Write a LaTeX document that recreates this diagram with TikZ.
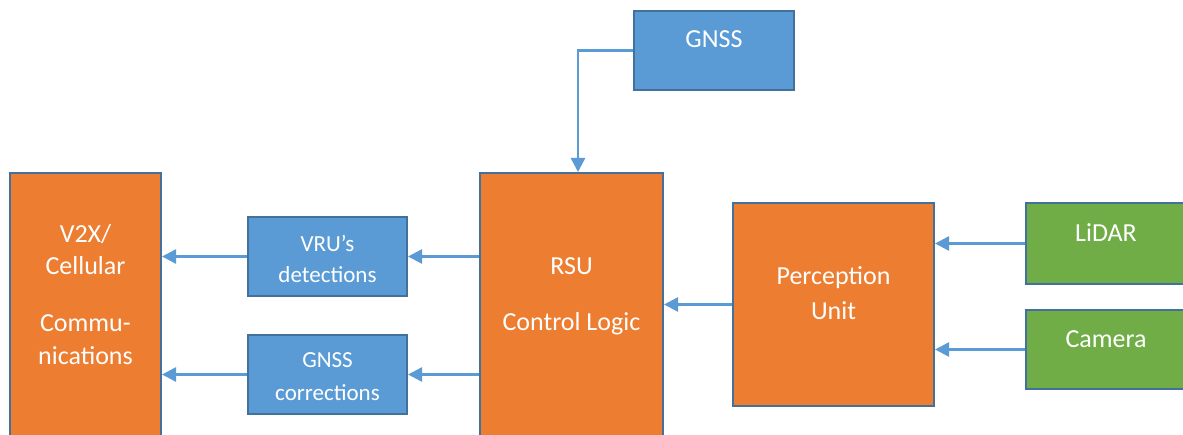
\documentclass[tikz,border=0pt]{standalone}
\usepackage{fontspec}
\setmainfont{Carlito}
\usetikzlibrary{arrows.meta}
\definecolor{boxorange}{HTML}{ED7D31}
\definecolor{boxblue}{HTML}{5B9BD5}
\definecolor{boxgreen}{HTML}{70AD47}
\definecolor{edgeblue}{HTML}{41719C}
\definecolor{linkblue}{HTML}{5B9BD5}
\tikzset{
  block/.style={draw=edgeblue, line width=2pt, inner sep=0pt, rectangle},
  orangebox/.style={block, fill=boxorange},
  bluebox/.style={block, fill=boxblue},
  greenbox/.style={block, fill=boxgreen},
  bigtxt/.style={text=white, anchor=base, inner sep=0pt, font=\fontsize{26}{31}\selectfont},
  smalltxt/.style={text=white, anchor=base, inner sep=0pt, font=\fontsize{23}{28}\selectfont},
  link/.style={draw=linkblue, line width=2.5pt, -{Triangle[length=14pt,width=14pt]}}
}
\begin{document}
\begin{tikzpicture}[x=1pt, y=-1pt]
  \useasboundingbox[fill=white] (0,0) rectangle (1183,435);
  \clip (0,0) rectangle (1183,435);

  % blocks
  \node[orangebox, minimum width=151pt, minimum height=287pt] (v2x) at (85.5,316.5) {};
  \node[bluebox, minimum width=159pt, minimum height=79pt] (vru) at (327.5,256.5) {};
  \node[bluebox, minimum width=159pt, minimum height=79pt] (corr) at (327.5,374.5) {};
  \node[orangebox, minimum width=183pt, minimum height=287pt] (rsu) at (571.5,316.5) {};
  \node[bluebox, minimum width=160pt, minimum height=79pt] (gnss) at (714,50.5) {};
  \node[orangebox, minimum width=201pt, minimum height=203pt] (per) at (833.5,304.5) {};
  \node[greenbox, minimum width=160pt, minimum height=81pt] (lidar) at (1106,243.5) {};
  \node[greenbox, minimum width=160pt, minimum height=79pt] (cam) at (1106,349.5) {};

  % labels
  \node[bigtxt] (t1) at (85.5,243) {V2X/};
  \node[bigtxt] (t2) at (85.5,275) {Cellular};
  \node[bigtxt] (t3) at (85.5,332) {Commu-};
  \node[bigtxt] (t4) at (85.5,365) {nications};
  \node[smalltxt] (t5) at (327.5,252) {VRU’s};
  \node[smalltxt] (t6) at (327.5,283) {detections};
  \node[smalltxt] (t7) at (327.5,368) {GNSS};
  \node[smalltxt] (t8) at (327.5,400) {corrections};
  \node[bigtxt] (t9) at (571.5,275) {RSU};
  \node[bigtxt] (t10) at (571.5,331) {Control Logic};
  \node[bigtxt] (t11) at (714,48) {GNSS};
  \node[bigtxt] (t12) at (833.5,285) {Perception};
  \node[bigtxt] (t13) at (833.5,320) {Unit};
  \node[bigtxt] (t14) at (1106,242) {LiDAR};
  \node[bigtxt] (t15) at (1106,348) {Camera};

  % connectors
  \draw[link] (gnss.west) -| ([xshift=6.5pt]rsu.north);
  \draw[link] (per.west) -- (per.west -| rsu.east);
  \draw[link] (lidar.west) -- (lidar.west -| per.east);
  \draw[link] (cam.west) -- (cam.west -| per.east);
  \draw[link] (vru.east -| rsu.west) -- (vru.east);
  \draw[link] (corr.east -| rsu.west) -- (corr.east);
  \draw[link] (vru.west) -- (vru.west -| v2x.east);
  \draw[link] (corr.west) -- (corr.west -| v2x.east);
\end{tikzpicture}
\end{document}
